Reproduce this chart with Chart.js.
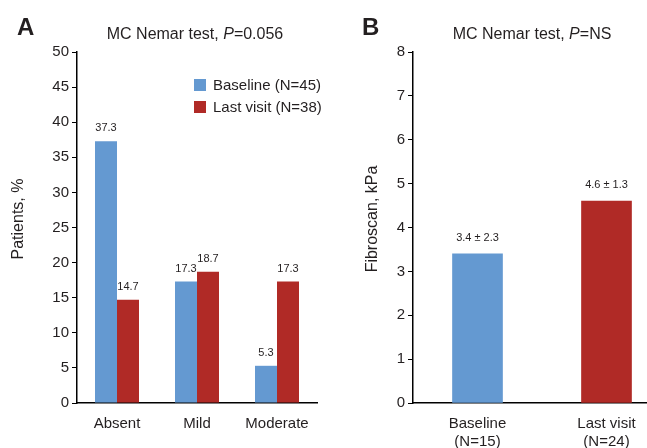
<!DOCTYPE html>
<html><head><meta charset="utf-8">
<script src="https://cdn.jsdelivr.net/npm/chart.js@4"></script>
<style>
html,body{margin:0;padding:0;background:#fff;overflow:hidden;width:647px;height:448px;position:relative}
#a{position:absolute;left:0;top:0}
#b{position:absolute;left:330px;top:0}
</style></head><body>
<canvas id="a" width="330" height="448"></canvas>
<canvas id="b" width="360" height="448"></canvas>
<script>
// ---- data ----
const severityCategories = ['Absent', 'Mild', 'Moderate'];
const baselinePct = [37.3, 17.3, 5.3];
const lastVisitPct = [14.7, 18.7, 17.3];
const seriesNamesA = ['Baseline (N=45)', 'Last visit (N=38)'];
const fibroCategories = [['Baseline', '(N=15)'], ['Last visit', '(N=24)']];
const fibroMean = [3.4, 4.6];
const fibroLabels = ['3.4 ± 2.3', '4.6 ± 1.3'];

const FONT = '"Liberation Sans", Arial, Helvetica, sans-serif';
const BLUE = '#6499d1';
const RED = '#b02a26';
const TXT = '#231f20';

Chart.defaults.font.family = FONT;
Chart.defaults.color = TXT;

const deco = {
  id: 'deco',
  afterDraw(chart, args, o) {
    const ctx = chart.ctx;
    ctx.save();
    ctx.fillStyle = TXT;
    // panel letter
    ctx.font = 'bold 24px ' + FONT;
    ctx.textAlign = 'left'; ctx.textBaseline = 'alphabetic';
    ctx.fillText(o.letter, o.letterX, 35);
    // title with italic P
    const parts = [[o.t1, '16px '], ['P', 'italic 16px '], [o.t2, '16px ']];
    let w = 0;
    parts.forEach(p => { ctx.font = p[1] + FONT; w += ctx.measureText(p[0]).width; });
    let x = o.titleX - w / 2;
    parts.forEach(p => { ctx.font = p[1] + FONT; ctx.fillText(p[0], x, 39); x += ctx.measureText(p[0]).width; });
    // y axis title
    ctx.font = '16px ' + FONT;
    ctx.translate(o.yTitleX, o.yTitleY);
    ctx.rotate(-Math.PI / 2);
    ctx.textAlign = 'center'; ctx.textBaseline = 'middle';
    ctx.fillText(o.yTitle, 0, 0);
    ctx.restore();
    // legend
    if (o.legend) {
      ctx.save();
      ctx.font = '15px ' + FONT;
      ctx.textAlign = 'left'; ctx.textBaseline = 'middle';
      chart.data.datasets.forEach((ds, i) => {
        const y = 79 + i * 22;
        ctx.fillStyle = ds.backgroundColor;
        ctx.fillRect(194, y, 12, 12);
        ctx.fillStyle = TXT;
        ctx.fillText(ds.label, 213, y + 6.5);
      });
      ctx.restore();
    }
    // value labels
    ctx.save();
    ctx.font = '11px ' + FONT;
    ctx.fillStyle = TXT;
    ctx.textAlign = 'center'; ctx.textBaseline = 'middle';
    chart.data.datasets.forEach((ds, i) => {
      const meta = chart.getDatasetMeta(i);
      meta.data.forEach((el, j) => {
        const lbl = o.valueLabels ? o.valueLabels[j] : ds.data[j].toFixed(1);
        ctx.fillText(lbl, el.x, el.y - o.labelOffset);
      });
    });
    ctx.restore();
  }
};

function yScale(max, step, width) {
  return {
    min: 0, max: max,
    ticks: { stepSize: step, padding: 3, color: TXT, font: { size: 15 } },
    grid: { drawOnChartArea: false, drawTicks: true, tickLength: 5, color: '#000', lineWidth: 1 },
    border: { display: true, color: '#000', width: 1.5 },
    afterFit(s) { s.width = width; }
  };
}
function xScale() {
  return {
    type: 'category', offset: true,
    grid: { display: false },
    border: { display: true, color: '#000', width: 1.5 },
    ticks: { padding: 4, color: TXT, font: { size: 15 }, maxRotation: 0, autoSkip: false },
    afterFit(s) { s.height = 45; }
  };
}

new Chart(document.getElementById('a'), {
  type: 'bar',
  data: {
    labels: severityCategories,
    datasets: [
      { label: seriesNamesA[0], data: baselinePct, backgroundColor: BLUE, categoryPercentage: 0.55, barPercentage: 1.0 },
      { label: seriesNamesA[1], data: lastVisitPct, backgroundColor: RED, categoryPercentage: 0.55, barPercentage: 1.0 }
    ]
  },
  options: {
    responsive: false, animation: false, devicePixelRatio: 1,
    layout: { padding: { top: 52, right: 13, left: 0, bottom: 0 } },
    scales: { x: xScale(), y: yScale(50, 5, 77) },
    plugins: {
      legend: { display: false }, tooltip: { enabled: false }, title: { display: false },
      deco: { letter: 'A', letterX: 17, t1: 'MC Nemar test, ', t2: '=0.056', titleX: 195, yTitle: 'Patients, %', yTitleX: 19, yTitleY: 219, legend: true, labelOffset: 13 }
    }
  },
  plugins: [deco]
});

new Chart(document.getElementById('b'), {
  type: 'bar',
  data: {
    labels: fibroCategories,
    datasets: [
      { label: 'Fibroscan', data: fibroMean, backgroundColor: [BLUE, RED], barThickness: 50 }
    ]
  },
  options: {
    responsive: false, animation: false, devicePixelRatio: 1,
    layout: { padding: { top: 52, right: 19, left: 0, bottom: 0 } },
    scales: { x: xScale(), y: yScale(8, 1, 83) },
    plugins: {
      legend: { display: false }, tooltip: { enabled: false }, title: { display: false },
      deco: { letter: 'B', letterX: 32, t1: 'MC Nemar test, ', t2: '=NS', titleX: 202, yTitle: 'Fibroscan, kPa', yTitleX: 43, yTitleY: 219, legend: false, labelOffset: 16, valueLabels: fibroLabels }
    }
  },
  plugins: [deco]
});
</script>
</body></html>
